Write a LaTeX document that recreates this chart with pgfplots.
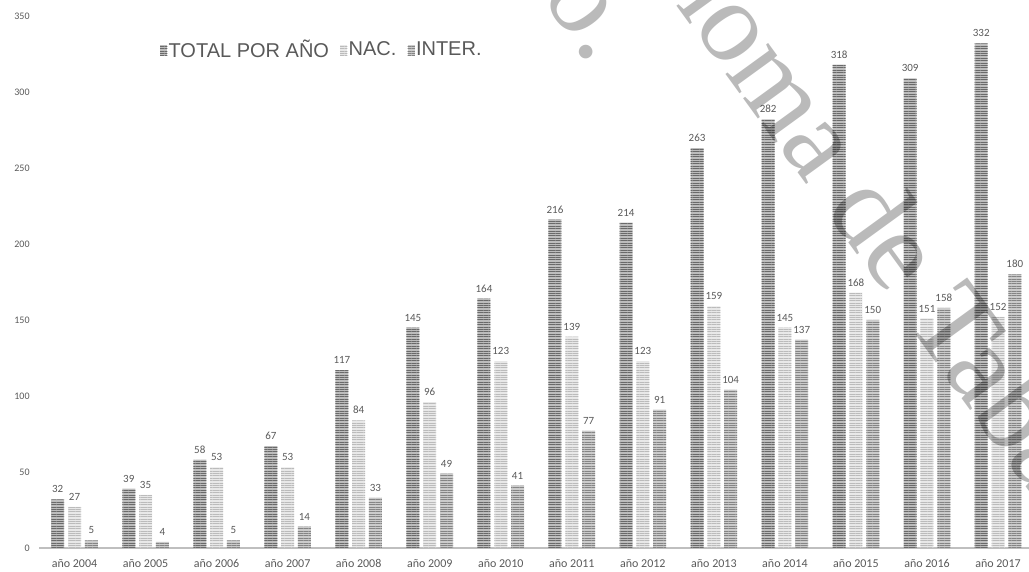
\documentclass[border=0pt]{standalone}
\usepackage{fontspec}
\setmainfont{Carlito}
\newfontfamily\legendfont{Liberation Sans}
\newfontfamily\wmfont{Liberation Serif}
\usepackage{pgfplots}
\pgfplotsset{compat=1.18}
\usetikzlibrary{patterns.meta}

\definecolor{txt}{HTML}{595959}
\definecolor{axln}{HTML}{BFBFBF}
\definecolor{totbg}{HTML}{BDBDBD}
\definecolor{totln}{HTML}{6A6A6A}
\definecolor{nacbg}{HTML}{E8E8E8}
\definecolor{nacln}{HTML}{BBBBBB}
\definecolor{intbg}{HTML}{CBCBCB}
\definecolor{intln}{HTML}{858585}
\definecolor{wmgray}{HTML}{BABABA}

\tikzset{
  stripes/.style={postaction={pattern={Lines[angle=0,distance=1.2pt,line width=0.5pt]},pattern color=#1}},
  wm/.style={font=\wmfont\fontsize{57.5}{60}\selectfont, text=wmgray, inner sep=0pt, rotate=-54},
}

\begin{document}
\begin{tikzpicture}
% picture fixed to the reference's size: 1 px = 0.5 pt
\path[use as bounding box] (0,0) rectangle (514.5pt,286pt);
\begin{axis}[
    at={(19.5pt,12pt)}, anchor=south west,
    scale only axis,
    width=495pt, height=266pt,
    ybar=1.9pt, bar width=6.5pt,
    xmin=-0.5, xmax=13.436,
    ymin=0, ymax=350,
    ytick={0,50,...,350},
    xtick=data,
    xticklabels={año 2004,año 2005,año 2006,año 2007,año 2008,año 2009,año 2010,año 2011,año 2012,año 2013,año 2014,año 2015,año 2016,año 2017},
    axis lines*=left,
    y axis line style={draw=none},
    x axis line style={draw=axln, line width=0.6pt},
    major tick length=0pt,
    tick label style={text=txt},
    yticklabel style={font=\fontsize{5}{6}\selectfont, inner sep=0pt, xshift=-4.5pt},
    xticklabel style={font=\fontsize{6}{7}\selectfont, inner sep=0pt, yshift=-5.5pt},
    /pgf/number format/assume math mode=true,
    nodes near coords,
    every node near coord/.append style={font=\fontsize{5.5}{6}\selectfont, text=txt, inner sep=0pt, yshift=3pt},
    legend columns=-1,
    legend style={at={(0.116,0.936)}, anchor=west, draw=none, fill=none,
      font=\legendfont\fontsize{10}{11}\selectfont, text=txt,
      /tikz/every even column/.append style={column sep=5pt},
      nodes={inner sep=0.6pt}},
    legend image code/.code={\path[#1] (0pt,-2.6pt) rectangle (3.6pt,2.6pt);},
]
\addplot[draw=none, fill=totbg, stripes=totln] coordinates {
  (0,32) (1,39) (2,58) (3,67) (4,117) (5,145) (6,164)
  (7,216) (8,214) (9,263) (10,282) (11,318) (12,309) (13,332)};
\addplot[draw=none, fill=nacbg, stripes=nacln] coordinates {
  (0,27) (1,35) (2,53) (3,53) (4,84) (5,96) (6,123)
  (7,139) (8,123) (9,159) (10,145) (11,168) (12,151) (13,152)};
\addplot[draw=none, fill=intbg, stripes=intln] coordinates {
  (0,5) (1,4) (2,5) (3,14) (4,33) (5,49) (6,41)
  (7,77) (8,91) (9,104) (10,137) (11,150) (12,158) (13,180)};
\legend{TOTAL POR AÑO,NAC.,INTER.}
\end{axis}
% watermark of the source page, in image pixels from the top-left corner,
% multiplied over the bars
\begin{scope}[shift={(0pt,286pt)}, x=0.5pt, y=-0.5pt, blend mode=multiply]
  \node[wm, anchor=base west] at (657,-21) {noma de Tabasco};
  \node[wm, anchor=base east] at (657,-21) {Universidad Juárez Autó};
  \node[wm, anchor=base east] at (591,67) {México.};
\end{scope}
\end{tikzpicture}
\end{document}
